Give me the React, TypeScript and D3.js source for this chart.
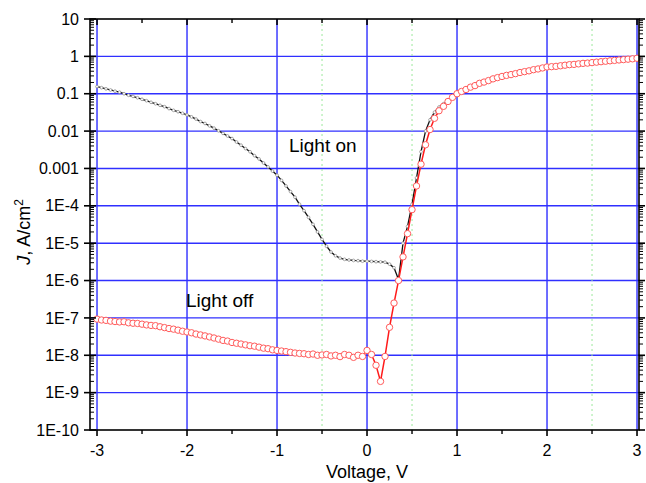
import React from 'react';
import * as d3 from 'd3';

// bias sweep, V
const voltage = [
  -3.0, -2.95, -2.9, -2.85, -2.8, -2.75, -2.7, -2.65, -2.6, -2.55,
  -2.5, -2.45, -2.4, -2.35, -2.3, -2.25, -2.2, -2.15, -2.1, -2.05,
  -2.0, -1.95, -1.9, -1.85, -1.8, -1.75, -1.7, -1.65, -1.6, -1.55,
  -1.5, -1.45, -1.4, -1.35, -1.3, -1.25, -1.2, -1.15, -1.1, -1.05,
  -1.0, -0.95, -0.9, -0.85, -0.8, -0.75, -0.7, -0.65, -0.6, -0.55,
  -0.5, -0.45, -0.4, -0.35, -0.3, -0.25, -0.2, -0.15, -0.1, -0.05,
  0.0, 0.05, 0.1, 0.15, 0.2, 0.25, 0.3, 0.35, 0.4, 0.45,
  0.5, 0.55, 0.6, 0.65, 0.7, 0.75, 0.8, 0.85, 0.9, 0.95,
  1.0, 1.05, 1.1, 1.15, 1.2, 1.25, 1.3, 1.35, 1.4, 1.45,
  1.5, 1.55, 1.6, 1.65, 1.7, 1.75, 1.8, 1.85, 1.9, 1.95,
  2.0, 2.05, 2.1, 2.15, 2.2, 2.25, 2.3, 2.35, 2.4, 2.45,
  2.5, 2.55, 2.6, 2.65, 2.7, 2.75, 2.8, 2.85, 2.9, 2.95,
  3.0,
];

// current density under illumination, A/cm2
const lightOn = [
  0.155, 0.145, 0.135, 0.126, 0.117, 0.11, 0.1, 0.091, 0.085, 0.078,
  0.071, 0.065, 0.059, 0.054, 0.049, 0.045, 0.04, 0.036, 0.033, 0.03,
  0.027, 0.024, 0.021, 0.018, 0.016, 0.0138, 0.012, 0.0102, 0.0087, 0.0074,
  0.0063, 0.0051, 0.0042, 0.0034, 0.0028, 0.0022, 0.0018, 0.0014, 0.0011, 8.5e-4,
  6.6e-4, 4.8e-4, 3.4e-4, 2.4e-4, 1.7e-4, 1.1e-4, 7.4e-5, 4.9e-5, 3.2e-5, 2.0e-5,
  1.26e-5, 8.3e-6, 5.8e-6, 4.6e-6, 4.0e-6, 3.7e-6, 3.55e-6, 3.45e-6, 3.4e-6, 3.3e-6,
  3.3e-6, 3.25e-6, 3.2e-6, 3.15e-6, 3.1e-6, 2.75e-6, 2.2e-6, 1.07e-6, 1.0e-5, 2.8e-5,
  1.1e-4, 5.6e-4, 2.8e-3, 0.01, 0.02, 0.032, 0.044, 0.054, 0.066, 0.083,
  0.1, 0.115, 0.13, 0.15, 0.165, 0.19, 0.205, 0.225, 0.25, 0.27,
  0.29, 0.31, 0.325, 0.345, 0.37, 0.39, 0.41, 0.44, 0.46, 0.49,
  0.52, 0.53, 0.54, 0.56, 0.58, 0.6, 0.61, 0.63, 0.65, 0.66,
  0.68, 0.7, 0.72, 0.74, 0.76, 0.78, 0.8, 0.82, 0.84, 0.86,
  0.89,
];

// current density in the dark, A/cm2
const lightOff = [
  9.3e-8, 8.8e-8, 8.6e-8, 8.2e-8, 8.0e-8, 7.8e-8, 7.9e-8, 7.4e-8, 7.2e-8, 7.1e-8,
  6.8e-8, 6.5e-8, 6.3e-8, 6.2e-8, 5.8e-8, 5.5e-8, 5.2e-8, 5.0e-8, 4.7e-8, 4.4e-8,
  4.2e-8, 4.0e-8, 3.7e-8, 3.5e-8, 3.3e-8, 3.1e-8, 2.9e-8, 2.7e-8, 2.5e-8, 2.4e-8,
  2.2e-8, 2.1e-8, 2.0e-8, 1.9e-8, 1.8e-8, 1.75e-8, 1.65e-8, 1.55e-8, 1.5e-8, 1.4e-8,
  1.35e-8, 1.3e-8, 1.25e-8, 1.2e-8, 1.15e-8, 1.12e-8, 1.1e-8, 1.05e-8, 1.08e-8, 1.0e-8,
  1.02e-8, 1.05e-8, 9.6e-9, 1.0e-8, 9.2e-9, 1.05e-8, 1.0e-8, 8.8e-9, 1.0e-8, 9.3e-9,
  1.35e-8, 1.05e-8, 5.4e-9, 2.0e-9, 9.3e-9, 5.6e-8, 2.5e-7, 1.0e-6, 4.3e-6, 1.8e-5,
  7.9e-5, 3.4e-4, 1.3e-3, 4.3e-3, 0.011, 0.022, 0.035, 0.046, 0.062, 0.08,
  0.1, 0.115, 0.13, 0.15, 0.165, 0.19, 0.205, 0.225, 0.25, 0.27,
  0.29, 0.31, 0.325, 0.345, 0.37, 0.39, 0.41, 0.44, 0.46, 0.49,
  0.52, 0.53, 0.54, 0.56, 0.58, 0.6, 0.61, 0.63, 0.65, 0.66,
  0.68, 0.7, 0.72, 0.74, 0.76, 0.78, 0.8, 0.82, 0.84, 0.86,
  0.89,
];

const xTicks = [-3, -2, -1, 0, 1, 2, 3];
const xMinorTicks = [-2.5, -1.5, -0.5, 0.5, 1.5, 2.5];
const xDottedGrid = [-0.5, 0.5, 2.5];
const yTicks = [10, 1, 0.1, 0.01, 0.001, 1e-4, 1e-5, 1e-6, 1e-7, 1e-8, 1e-9, 1e-10];
const yTickLabels = ['10', '1', '0.1', '0.01', '0.001', '1E-4', '1E-5', '1E-6', '1E-7', '1E-8', '1E-9', '1E-10'];

const FONT = '"Liberation Sans", Arial, sans-serif';

export default function App() {
  const left = 90, right = 639, top = 19, bottom = 430;
  const x = d3.scaleLinear().domain([-3.078, 3.022]).range([left, right]);
  const y = d3.scaleLog().domain([1e-10, 10]).range([bottom, top]);

  const onPts = voltage.map((v, i) => [v, lightOn[i]] as [number, number]);
  const offPts = voltage.map((v, i) => [v, lightOff[i]] as [number, number]);
  const line = d3.line<[number, number]>().x(d => x(d[0])).y(d => y(d[1]));

  // log minor ticks 2..9 in every decade
  const minorY: number[] = [];
  for (let k = -10; k < 1; k++) for (let m = 2; m < 10; m++) minorY.push(m * Math.pow(10, k));

  return (
    <svg width={646} height={483} style={{ position: 'absolute', left: 0, top: 0, background: '#fff' }}
      fontFamily={FONT}>
      {/* grid */}
      {yTicks.slice(1, -1).map(t => (
        <line key={'gy' + t} x1={left} x2={right} y1={y(t)} y2={y(t)} stroke="#3030ff" strokeWidth={1.4} />
      ))}
      {xDottedGrid.map(t => (
        <line key={'gd' + t} x1={x(t)} x2={x(t)} y1={top} y2={bottom} stroke="#9be89b" strokeWidth={1} strokeDasharray="2,3" />
      ))}
      {xTicks.map(t => (
        <line key={'gx' + t} x1={x(t)} x2={x(t)} y1={top} y2={bottom} stroke="#3030ff" strokeWidth={1.4} />
      ))}

      {/* light on */}
      <path d={line(onPts) || ''} fill="none" stroke="#111" strokeWidth={1.3} />
      {onPts.map((d, i) => (
        <circle key={'on' + i} cx={x(d[0])} cy={y(d[1])} r={1.4} fill="#fff" stroke="#888" strokeWidth={0.7} />
      ))}

      {/* light off */}
      <path d={line(offPts) || ''} fill="none" stroke="#ff1a1a" strokeWidth={1.5} />
      {offPts.map((d, i) => (
        <circle key={'off' + i} cx={x(d[0])} cy={y(d[1])} r={3.2} fill="#fff" stroke="#ff5a5a" strokeWidth={1} />
      ))}

      {/* frame */}
      <rect x={left} y={top} width={right - left} height={bottom - top} fill="none" stroke="#000" strokeWidth={1.6} />

      {/* left / right axis ticks */}
      {minorY.map(t => (
        <g key={'my' + t}>
          <line x1={left} x2={left + 4} y1={y(t)} y2={y(t)} stroke="#000" strokeWidth={1} />
          <line x1={right} x2={right + 4} y1={y(t)} y2={y(t)} stroke="#000" strokeWidth={1} />
        </g>
      ))}
      {yTicks.map((t, i) => (
        <g key={'ty' + t}>
          <line x1={left - 6} x2={left + 6} y1={y(t)} y2={y(t)} stroke="#000" strokeWidth={1.6} />
          <line x1={right} x2={right + 6} y1={y(t)} y2={y(t)} stroke="#000" strokeWidth={1.6} />
          <text x={left - 11} y={y(t)} dy="0.35em" textAnchor="end" fontSize={16}>{yTickLabels[i]}</text>
        </g>
      ))}

      {/* bottom / top axis ticks */}
      {xMinorTicks.map(t => (
        <g key={'mx' + t}>
          <line x1={x(t)} x2={x(t)} y1={bottom} y2={bottom + 4} stroke="#000" strokeWidth={1.4} />
          <line x1={x(t)} x2={x(t)} y1={top} y2={top + 4} stroke="#000" strokeWidth={1.4} />
        </g>
      ))}
      {xTicks.map(t => (
        <g key={'tx' + t}>
          <line x1={x(t)} x2={x(t)} y1={bottom} y2={bottom + 6} stroke="#000" strokeWidth={1.6} />
          <line x1={x(t)} x2={x(t)} y1={top} y2={top + 6} stroke="#000" strokeWidth={1.6} />
          <text x={x(t)} y={456} textAnchor="middle" fontSize={16}>{t < 0 ? '-' + Math.abs(t) : String(t)}</text>
        </g>
      ))}

      {/* annotations */}
      <text x={289} y={152} fontSize={19}>Light on</text>
      <text x={186} y={307} fontSize={19}>Light off</text>

      {/* axis titles */}
      <text x={367} y={478} textAnchor="middle" fontSize={18}>Voltage, V</text>
      <text transform="translate(30,232) rotate(-90)" textAnchor="middle" fontSize={18}>
        <tspan fontStyle="italic">J</tspan>, A/cm<tspan dy={-7} fontSize={12}>2</tspan>
      </text>
    </svg>
  );
}
